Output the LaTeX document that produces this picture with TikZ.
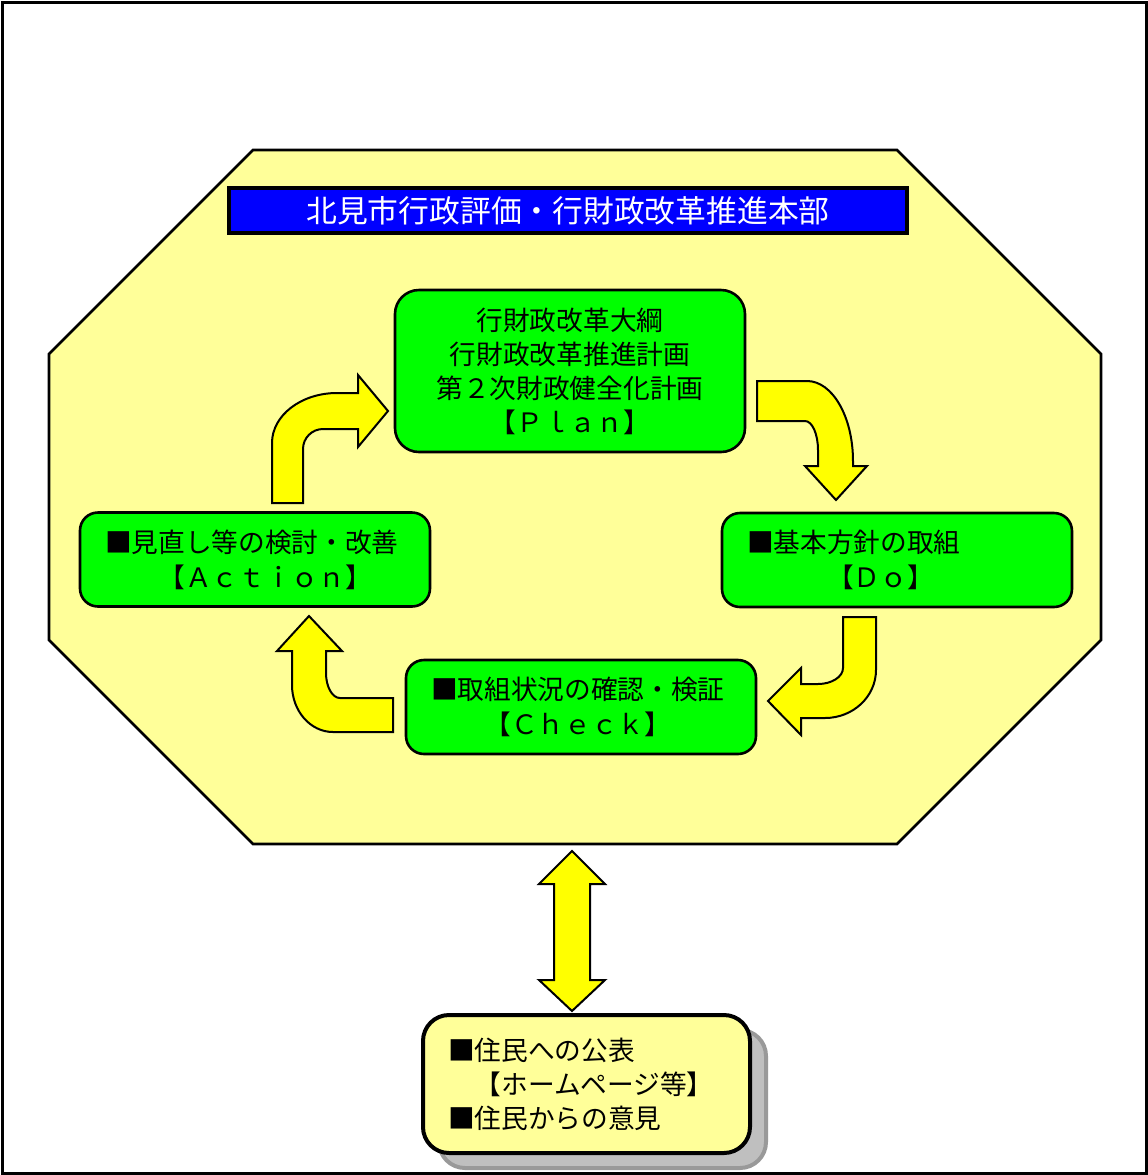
\documentclass[tikz,border=0pt]{standalone}
\usepackage{fontspec}
\setmainfont{Noto Sans CJK JP}
\usetikzlibrary{calc,shadows}
\definecolor{octfill}{HTML}{FFFF99}
\definecolor{grn}{HTML}{00FF00}
\definecolor{ylw}{HTML}{FFFF00}
\definecolor{blu}{HTML}{0000FF}
\begin{document}
\begin{tikzpicture}[x=0.5pt,y=-0.5pt,
  greenbox/.style={draw=black, line width=1.3pt, fill=grn, rounded corners=9pt,
    font=\fontsize{13.35}{17.5}\selectfont, inner ysep=0pt, minimum width=175pt, minimum height=47pt},
  leftbox/.style={greenbox, text width=150pt, inner xsep=12.5pt, align=left},
  blockarrow/.style={draw=black, line width=1pt, fill=ylw, line join=miter},
]
\useasboundingbox (0,0) rectangle (1148,1175);
% outer frame
\draw[line width=1.5pt, fill=white] (2,2) rectangle (1146,1173);
% octagon
\draw[fill=octfill, line width=1.3pt] (253,150) -- (897,150) -- (1101,354) -- (1101,640)
  -- (897,844) -- (253,844) -- (49,640) -- (49,354) -- cycle;
\coordinate (octbot) at (572,844);
% title
\node (title) [draw=black, line width=2pt, fill=blu, text=white, minimum width=339pt, minimum height=22.5pt,
  inner sep=0pt, font=\fontsize{15.4}{18}\selectfont] at (568,210.5) {北見市行政評価・行財政改革推進本部};
% boxes
\node (plan) [greenbox, rounded corners=12pt, minimum height=81pt, align=center, font=\fontsize{13.35}{17}\selectfont]
  at (570,371) {行財政改革大綱\\行財政改革推進計画\\第２次財政健全化計画\\【Ｐｌａｎ】};
\node (action) [leftbox] at (255,559.5) {■見直し等の検討・改善\\　　【Ａｃｔｉｏｎ】};
\node (do) [leftbox] at (897,560) {■基本方針の取組\\　　　【Ｄｏ】};
\node (check) [leftbox] at (581,707) {■取組状況の確認・検証\\　　【Ｃｈｅｃｋ】};
% curved arrows
\draw[blockarrow] (272,503) -- (272,443) .. controls (272,415.4) and (301.1,393) .. (337,393)
  -- (358,393) -- (358,375) -- (388,411) -- (358,447) -- (358,429) -- (323,429)
  .. controls (312,429) and (303,438) .. (303,449) -- (303,503) -- cycle;
\draw[blockarrow] (757,381) -- (807,381) .. controls (832.4,381) and (853,416.8) .. (853,461)
  -- (853,466) -- (867,466) -- (836,500) -- (805,466) -- (818,466) -- (818,450)
  .. controls (818,434) and (812.2,421) .. (805,421) -- (757,421) -- cycle;
\draw[blockarrow] (843,617) -- (876,617) -- (876,670) .. controls (876,696.5) and (853.2,718) .. (825,718)
  -- (801,718) -- (801,735) -- (768,701) -- (801,668) -- (801,684) -- (818,684)
  .. controls (831.8,684) and (843,676.8) .. (843,668) -- cycle;
\draw[blockarrow] (393,698) -- (393,732) -- (333,732) .. controls (310.4,732) and (292,711) .. (292,685)
  -- (292,651) -- (277,651) -- (309,616) -- (342,651) -- (326,651) -- (326,673)
  .. controls (326,686.8) and (332.3,698) .. (340,698) -- cycle;
% bottom box
\node (pub) [draw=black, line width=2pt, fill=octfill, rounded corners=13pt,
  drop shadow={shadow xshift=8pt, shadow yshift=-7.5pt, fill=black!25, draw=black!40, opacity=1},
  minimum width=163.5pt, minimum height=69pt, text width=138.5pt, inner xsep=12.5pt, inner ysep=0pt,
  align=left, font=\fontsize{13.35}{17}\selectfont] at (586.5,1084)
  {■住民への公表\\　【ホームページ等】\\■住民からの意見};
% double arrow
\coordinate (dtop) at ($(octbot)+(0,7)$);
\coordinate (dbot) at ($(dtop |- pub.north)+(0,-2)$);
\draw[blockarrow] (dtop) -- ($(dtop)+(33,33)$) -- ($(dtop)+(18,33)$) -- ($(dbot)+(18,-31)$)
  -- ($(dbot)+(33,-31)$) -- (dbot) -- ($(dbot)+(-33,-31)$) -- ($(dbot)+(-18,-31)$)
  -- ($(dtop)+(-18,33)$) -- ($(dtop)+(-33,33)$) -- cycle;
\end{tikzpicture}
\end{document}
